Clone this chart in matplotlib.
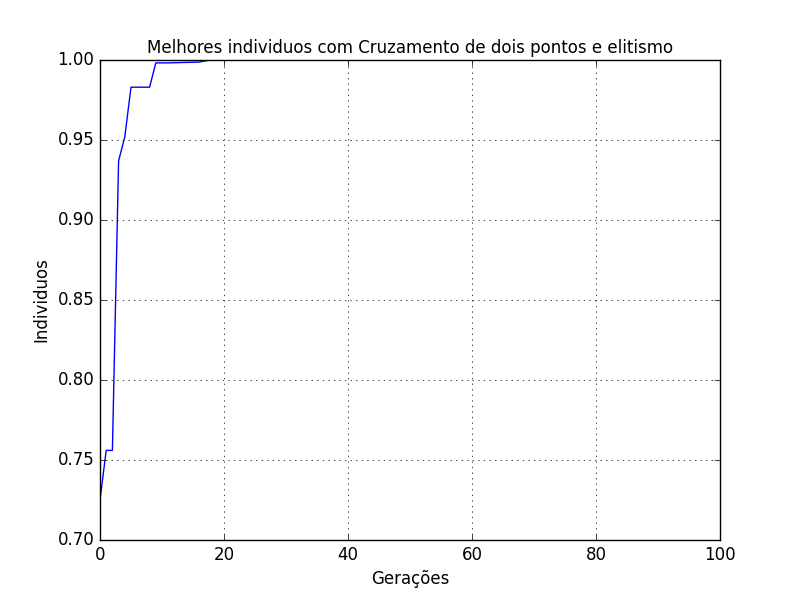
import matplotlib
matplotlib.use("Agg")
import matplotlib.pyplot as plt

plt.style.use("classic")

geracoes = list(range(100))
melhores = ([0.725, 0.756, 0.756, 0.937, 0.952, 0.983, 0.983, 0.983, 0.983,
             0.9982, 0.9982, 0.9982, 0.9983, 0.9984, 0.9985, 0.9986, 0.9987, 0.9995]
            + [1.0] * 82)

fig = plt.figure(figsize=(8, 6), dpi=100)
fig.patch.set_facecolor("white")
ax = fig.add_subplot(111)
ax.plot(geracoes, melhores, color="b")
ax.set_xlim(0, 100)
ax.set_ylim(0.70, 1.00)
ax.grid(True)
ax.set_title("Melhores individuos com Cruzamento de dois pontos e elitismo", fontsize=12)
ax.set_xlabel("Gerações")
ax.set_ylabel("Individuos")
fig.savefig("out.png", dpi=100, facecolor="white")
